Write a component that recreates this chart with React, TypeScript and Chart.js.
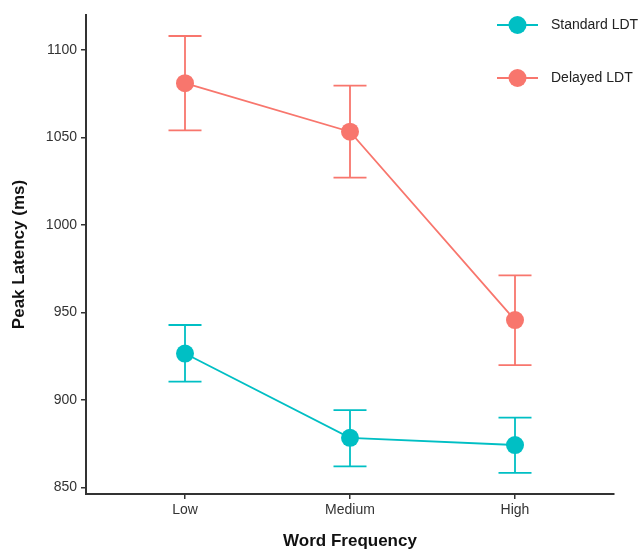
import React, { useEffect, useRef } from "react";
import { Chart, registerables } from "chart.js";

Chart.register(...registerables);

const categories = ["Low", "Medium", "High"];
const seriesNames = ["Standard LDT", "Delayed LDT"];
const standardMean = [926.5, 878.3, 874.2];
const standardUpper = [942.8, 894.2, 889.8];
const standardLower = [910.4, 862.0, 858.3];
const delayedMean = [1081.0, 1053.3, 945.6];
const delayedUpper = [1108.0, 1079.6, 971.2];
const delayedLower = [1054.0, 1027.0, 919.9];
const yTicks = [850, 900, 950, 1000, 1050, 1100];

const TEAL = "#00BFC4";
const RED = "#F8766D";
const FONT = "'Liberation Sans', Arial, sans-serif";

export default function App() {
  const ref = useRef<HTMLCanvasElement>(null);

  useEffect(() => {
    const canvas = ref.current;
    if (!canvas) return;

    const errorBars = {
      id: "errorBars",
      beforeDatasetsDraw(chart: any) {
        const { ctx, scales } = chart;
        const xs = scales.x;
        const ys = scales.y;
        const sets = [
          { up: standardUpper, lo: standardLower, color: TEAL },
          { up: delayedUpper, lo: delayedLower, color: RED },
        ];
        ctx.save();
        ctx.lineWidth = 1.8;
        sets.forEach((s) => {
          ctx.strokeStyle = s.color;
          categories.forEach((_, i) => {
            const x = xs.getPixelForValue(i + 1);
            const half = xs.getPixelForValue(i + 1.1) - x;
            const yu = ys.getPixelForValue(s.up[i]);
            const yl = ys.getPixelForValue(s.lo[i]);
            ctx.beginPath();
            ctx.moveTo(x, yu);
            ctx.lineTo(x, yl);
            ctx.moveTo(x - half, yu);
            ctx.lineTo(x + half, yu);
            ctx.moveTo(x - half, yl);
            ctx.lineTo(x + half, yl);
            ctx.stroke();
          });
        });
        ctx.restore();
      },
    };

    const legendPlugin = {
      id: "customLegend",
      afterDraw(chart: any) {
        const { ctx } = chart;
        const items = [
          { label: seriesNames[0], color: TEAL, y: 25 },
          { label: seriesNames[1], color: RED, y: 78 },
        ];
        ctx.save();
        items.forEach((it) => {
          ctx.strokeStyle = it.color;
          ctx.lineWidth = 1.8;
          ctx.beginPath();
          ctx.moveTo(497, it.y);
          ctx.lineTo(538, it.y);
          ctx.stroke();
          ctx.fillStyle = it.color;
          ctx.beginPath();
          ctx.arc(517.5, it.y, 9, 0, Math.PI * 2);
          ctx.fill();
          ctx.fillStyle = "#222";
          ctx.font = `14px ${FONT}`;
          ctx.textBaseline = "middle";
          ctx.textAlign = "left";
          ctx.fillText(it.label, 551, it.y);
        });
        ctx.restore();
      },
    };

    const chart = new Chart(canvas, {
      type: "line",
      data: {
        datasets: [
          {
            label: seriesNames[0],
            data: standardMean.map((v, i) => ({ x: i + 1, y: v })),
            borderColor: TEAL,
            backgroundColor: TEAL,
            borderWidth: 1.8,
            pointRadius: 9,
            pointBorderWidth: 0,
            pointHoverRadius: 9,
          },
          {
            label: seriesNames[1],
            data: delayedMean.map((v, i) => ({ x: i + 1, y: v })),
            borderColor: RED,
            backgroundColor: RED,
            borderWidth: 1.8,
            pointRadius: 9,
            pointBorderWidth: 0,
            pointHoverRadius: 9,
          },
        ],
      },
      options: {
        responsive: false,
        animation: false,
        layout: { padding: { left: 0, top: 15, right: 30, bottom: 0 } },
        plugins: { legend: { display: false }, tooltip: { enabled: false } },
        scales: {
          x: {
            type: "linear",
            min: 0.4,
            max: 3.6,
            afterBuildTicks: (scale: any) => {
              scale.ticks = categories.map((_, i) => ({ value: i + 1 }));
            },
            afterFit: (scale: any) => {
              scale.height = 59;
            },
            ticks: {
              color: "#333",
              font: { family: FONT, size: 14 },
              padding: 3,
              callback: (v: any) => categories[Math.round(Number(v)) - 1] ?? "",
            },
            grid: {
              drawOnChartArea: false,
              drawTicks: true,
              tickLength: 5,
              color: "#333",
              lineWidth: 1.5,
            },
            border: { display: true, color: "#333", width: 2 },
            title: {
              display: true,
              text: "Word Frequency",
              color: "#111",
              font: { family: FONT, size: 17, weight: "bold" },
              padding: { top: 0, bottom: 1 },
            },
          },
          y: {
            type: "linear",
            min: 846.2,
            max: 1120,
            afterBuildTicks: (scale: any) => {
              scale.ticks = yTicks.map((v) => ({ value: v }));
            },
            afterFit: (scale: any) => {
              scale.width = 86;
            },
            ticks: {
              color: "#333",
              font: { family: FONT, size: 14 },
              padding: 4,
              callback: (v: any) => String(v),
            },
            grid: {
              drawOnChartArea: false,
              drawTicks: true,
              tickLength: 5,
              color: "#333",
              lineWidth: 1.5,
            },
            border: { display: true, color: "#333", width: 2 },
            title: {
              display: true,
              text: "Peak Latency (ms)",
              color: "#111",
              font: { family: FONT, size: 17, weight: "bold" },
              padding: { top: 9, bottom: 0 },
            },
          },
        },
      },
      plugins: [errorBars, legendPlugin],
    } as any);

    return () => chart.destroy();
  }, []);

  return (
    <div style={{ position: "absolute", left: 0, top: 0, width: 644, height: 553, background: "#fff" }}>
      <canvas ref={ref} width={644} height={553} style={{ width: 644, height: 553, display: "block" }} />
    </div>
  );
}
